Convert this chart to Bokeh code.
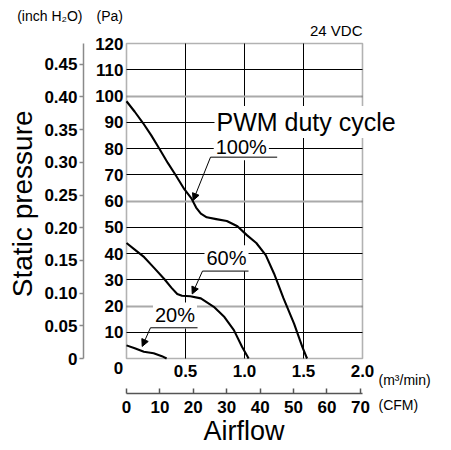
from bokeh.plotting import figure
from bokeh.models import (LinearAxis, Range1d, FixedTicker, Label, Arrow, NormalHead,
                          Grid, PrintfTickFormatter, BoxAnnotation)
from bokeh.embed import file_html
from bokeh.resources import INLINE

PA_PER_INH2O = 249.0889
CFM_PER_M3MIN = 35.3147

# ---------------- data ----------------
# PWM 100 %
airflow_100 = [0, 0.07, 0.14, 0.21, 0.28, 0.35, 0.42, 0.49, 0.55, 0.59, 0.63, 0.68,
               0.76, 0.85, 0.94, 1.02, 1.10, 1.18, 1.25, 1.33, 1.42, 1.49, 1.53]
pressure_100 = [98, 94, 89.7, 85, 79.8, 74.5, 69.6, 64.5, 61, 57.5, 55.2, 53.8,
                53.1, 52.4, 50.4, 47, 44, 39.4, 32.4, 23, 13.3, 4.4, 0]
# PWM 60 %
airflow_60 = [0, 0.07, 0.15, 0.23, 0.32, 0.38, 0.43, 0.47, 0.54, 0.63, 0.74, 0.83,
              0.91, 0.98, 1.035]
pressure_60 = [44, 41.5, 38.6, 34.7, 30.3, 27, 24.6, 23.9, 23.7, 22.9, 19.7, 15.8,
               10.8, 4.4, 0]
# PWM 20 %
airflow_20 = [0, 0.07, 0.147, 0.23, 0.30, 0.34]
pressure_20 = [5, 3.9, 2.6, 2.0, 0.9, 0]

pa_ticks = [10, 20, 30, 40, 50, 60, 70, 80, 90, 100, 110, 120]
inch_ticks = [0, 0.05, 0.1, 0.15, 0.2, 0.25, 0.3, 0.35, 0.4, 0.45]
m3_ticks = [0.5, 1.0, 1.5, 2.0]
cfm_ticks = [0, 10, 20, 30, 40, 50, 60, 70]
grid_x = [0.5, 1.0, 1.5]
grid_y_dark = [10, 30, 40, 50, 70, 80, 90, 110]
grid_y_light = [20, 60, 100]

pct_text = ["100%", "60%", "20%"]
pct_x = [0.973, 0.8475, 0.411]
pct_y = [80.5, 38.2, 16.4]
under_x0 = [0.712, 0.644, 0.203]
under_x1 = [1.277, 1.034, 0.602]
under_y = [76.7, 33.3, 11.7]
tip_x = [0.565, 0.557, 0.133]
tip_y = [60.2, 24.6, 4.6]

X_MAX = 2.0
Y_MAX = 120

# ---------------- layout geometry ----------------
W, H = 451, 450
LEFT, RIGHT, TOP, BOTTOM = 126, 362, 43, 358       # pixel box of the chart area
PPX = (RIGHT - LEFT) / X_MAX
PPY = (BOTTOM - TOP) / Y_MAX
x0, x1 = -LEFT / PPX, (W - LEFT) / PPX
y0, y1 = -(H - BOTTOM) / PPY, BOTTOM / PPY

TICK_FONT = "Liberation Sans"
TEXT_FONT = "Liberation Sans"

p = figure(width=W, height=H, output_backend="svg", toolbar_location=None,
           x_range=Range1d(x0, x1), y_range=Range1d(y0, y1),
           x_axis_location=None, y_axis_location=None,
           background_fill_color="white", border_fill_color="white")
p.min_border = 0
p.min_border_left = 0
p.min_border_right = 0
p.min_border_top = 0
p.min_border_bottom = 0
p.outline_line_color = None
p.center = [r for r in p.center if not isinstance(r, Grid)]

p.extra_y_ranges = {"inch": Range1d(y0 / PA_PER_INH2O, y1 / PA_PER_INH2O)}
p.extra_x_ranges = {"cfm": Range1d(x0 * CFM_PER_M3MIN, x1 * CFM_PER_M3MIN)}

# ---------------- grid ----------------
p.add_layout(Grid(dimension=0, ticker=FixedTicker(ticks=grid_x), cross_bounds=(0, Y_MAX),
                  grid_line_color="black", grid_line_width=1))
p.add_layout(Grid(dimension=1, ticker=FixedTicker(ticks=grid_y_dark), cross_bounds=(0, X_MAX),
                  grid_line_color="black", grid_line_width=1))
p.add_layout(Grid(dimension=1, ticker=FixedTicker(ticks=grid_y_light), cross_bounds=(0, X_MAX),
                  grid_line_color="#aaaaaa", grid_line_width=2))


def style_ticks(ax):
    ax.major_label_text_font = TICK_FONT
    ax.major_label_text_font_style = "bold"
    ax.major_label_text_font_size = "17px"
    ax.major_label_text_color = "black"
    ax.minor_tick_line_color = None


# Pa axis
pa_ax = LinearAxis(fixed_location=0, bounds=(0, Y_MAX), ticker=FixedTicker(ticks=pa_ticks))
style_ticks(pa_ax)
pa_ax.axis_line_color = None
pa_ax.major_tick_line_color = None
pa_ax.major_tick_out = 0
pa_ax.major_tick_in = 0
pa_ax.major_label_standoff = 3
p.add_layout(pa_ax, "left")

# inch H2O axis
inch_ax = LinearAxis(y_range_name="inch", fixed_location=(83 - LEFT) / PPX,
                     bounds=(0, Y_MAX / PA_PER_INH2O),
                     ticker=FixedTicker(ticks=inch_ticks),
                     formatter=PrintfTickFormatter(format="%.2f"))
inch_ax.major_label_overrides = {0: "0"}
style_ticks(inch_ax)
inch_ax.axis_line_color = "#8a8a8a"
inch_ax.axis_line_width = 1.5
inch_ax.major_tick_line_color = "#8a8a8a"
inch_ax.major_tick_line_width = 1.5
inch_ax.major_tick_out = 4
inch_ax.major_tick_in = 0
inch_ax.major_label_standoff = 2
p.add_layout(inch_ax, "left")

# m3/min axis
m3_ax = LinearAxis(fixed_location=0, bounds=(0, X_MAX), ticker=FixedTicker(ticks=m3_ticks),
                   formatter=PrintfTickFormatter(format="%.1f"))
style_ticks(m3_ax)
m3_ax.axis_line_color = None
m3_ax.major_tick_line_color = None
m3_ax.major_tick_out = 0
m3_ax.major_tick_in = 0
m3_ax.major_label_standoff = 6
p.add_layout(m3_ax, "below")

# CFM axis
cfm_ax = LinearAxis(x_range_name="cfm", fixed_location=-(392.5 - BOTTOM) / PPY,
                    bounds=(0, X_MAX * CFM_PER_M3MIN), ticker=FixedTicker(ticks=cfm_ticks))
style_ticks(cfm_ax)
cfm_ax.axis_line_color = "#555555"
cfm_ax.axis_line_width = 1.5
cfm_ax.major_tick_line_color = "#555555"
cfm_ax.major_tick_line_width = 1.5
cfm_ax.major_tick_in = 5
cfm_ax.major_tick_out = 0
cfm_ax.major_label_standoff = 8
p.add_layout(cfm_ax, "below")

# chart border
p.add_layout(BoxAnnotation(left=0, right=X_MAX, bottom=0, top=Y_MAX, fill_color=None,
                           line_color="black", line_width=1.6))

# ---------------- curves ----------------
for xs, ys in [(airflow_100, pressure_100), (airflow_60, pressure_60),
               (airflow_20, pressure_20)]:
    p.line(xs, ys, line_color="black", line_width=2.1, line_join="round")


def text(t, x, y, size, align="left", font=TEXT_FONT, style="normal", angle=0, bg=False):
    kw = dict(x=x, y=y, text=t, text_font=font, text_font_size=size,
              text_font_style=style, text_align=align, text_baseline="middle",
              text_color="black", angle=angle, angle_units="deg")
    if bg:
        kw.update(background_fill_color="white", padding=2)
    p.add_layout(Label(**kw))


text("PWM duty cycle", 0.7458, 90.1, "25px", bg=True)
for t, x, y in zip(pct_text, pct_x, pct_y):
    text(t, x, y, "20px", align="center", bg=True)

# leader lines (drawn after the label boxes)
for i in range(3):
    p.add_layout(Arrow(start=None, end=None,
                       x_start=under_x0[i], y_start=under_y[i],
                       x_end=under_x1[i], y_end=under_y[i],
                       line_color="black", line_width=1))
    p.add_layout(Arrow(end=NormalHead(size=7, fill_color="black", line_color="black",
                                      line_width=1),
                       x_start=under_x0[i], y_start=under_y[i],
                       x_end=tip_x[i], y_end=tip_y[i],
                       line_color="black", line_width=1))

text("Static pressure", -0.884, 58.93, "28px", align="center", angle=90)
text("Airflow", 0.9958, -27.7, "27px", align="center")
text("0", -0.028, -3.62, "17px", align="right", font=TICK_FONT, style="bold")
text("24 VDC", X_MAX, 124.95, "15px", align="right")
text("(inch H\u2082O)", -0.3729, 130.55, "14px", align="right")
text("(Pa)", -0.0297, 130.55, "14px", align="right")
text("(m\u00b3/min)", 2.1356, -8.38, "14px")
text("(CFM)", 2.1356, -17.9, "14px")

open("out.html", "w").write(file_html(p, INLINE))
